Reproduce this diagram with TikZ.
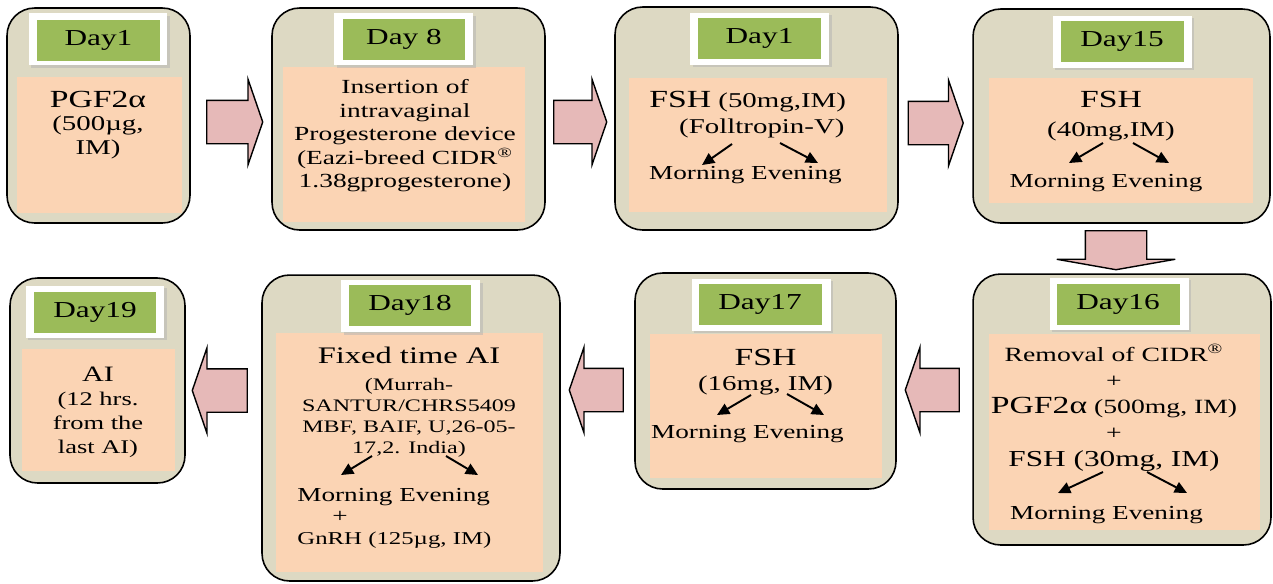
\documentclass[tikz,border=0pt]{standalone}
\usepackage{fontspec}
\setmainfont{Liberation Serif}[FakeStretch=1.37]
\usetikzlibrary{arrows.meta,shapes.arrows,shadows,calc}

\definecolor{boxtan}{HTML}{DDD9C3}
\definecolor{peach}{HTML}{FBD4B4}
\definecolor{daygreen}{HTML}{9BBB59}
\definecolor{arrowpink}{HTML}{E6B9B8}

\newcommand{\bigtxt}{\fontsize{14pt}{16pt}\selectfont}
\newcommand{\midtxt}{\fontsize{13pt}{15pt}\selectfont}

\begin{document}
\begin{tikzpicture}[x=0.02cm, y=-0.02cm, >={Triangle[length=7pt,width=6.5pt]}]
  \tikzstyle{daybox}=[draw, line width=0.9pt, fill=boxtan, rounded corners=0.55cm]
  \tikzstyle{inbox}=[fill=peach, inner sep=0pt]
  \tikzstyle{tabframe}=[fill=white, minimum width=2.78cm, minimum height=1.04cm,
    drop shadow={shadow xshift=1.5pt, shadow yshift=-1.5pt, fill=black!30}]
  \tikzstyle{tab}=[fill=daygreen, minimum width=2.46cm, minimum height=0.82cm,
    font=\fontsize{13pt}{15pt}\selectfont]
  \tikzstyle{txt}=[inner sep=0pt, align=center]
  \tikzstyle{blockarr}=[single arrow, draw, line width=0.8pt, fill=arrowpink,
    inner xsep=0pt, inner ysep=0.42cm, single arrow head extend=0.42cm, single arrow tip angle=142]
  \tikzstyle{twig}=[->, line width=1.1pt]

  \useasboundingbox (0,0) rectangle (1273,583);

  % top row
  \node[daybox, minimum width=3.66cm, minimum height=4.30cm] (b1) at (98.5,115.5) {};
  \node[daybox, minimum width=5.46cm, minimum height=4.44cm] (b2) at (408.5,119) {};
  \node[daybox, minimum width=5.66cm, minimum height=4.46cm] (b3) at (756.5,118.5) {};
  \node[daybox, minimum width=5.94cm, minimum height=4.28cm] (b4) at (1121.5,116) {};
  % bottom row
  \node[daybox, minimum width=5.96cm, minimum height=5.42cm] (b5) at (1122,409.5) {};
  \node[daybox, minimum width=5.22cm, minimum height=4.32cm] (b6) at (765.5,381) {};
  \node[daybox, minimum width=5.96cm, minimum height=6.12cm] (b7) at (411,428) {};
  \node[daybox, minimum width=3.50cm, minimum height=4.10cm] (b8) at (97.5,380.5) {};

  \node[inbox, minimum width=3.30cm, minimum height=2.72cm] (p1) at (99.5,145) {};
  \node[inbox, minimum width=4.84cm, minimum height=3.10cm] (p2) at (404,144.5) {};
  \node[inbox, minimum width=5.16cm, minimum height=2.68cm] (p3) at (758,145) {};
  \node[inbox, minimum width=5.28cm, minimum height=2.50cm] (p4) at (1121,140.5) {};
  \node[inbox, minimum width=5.42cm, minimum height=3.92cm] (p5) at (1124.5,432) {};
  \node[inbox, minimum width=4.64cm, minimum height=2.88cm] (p6) at (766,406) {};
  \node[inbox, minimum width=5.34cm, minimum height=4.78cm] (p7) at (409.5,452.5) {};
  \node[inbox, minimum width=3.06cm, minimum height=2.44cm] (p8) at (98.5,410) {};

  % day tabs
  \node[tabframe] (f1) at (98,39) {};
  \node[tab] (g1) at (98.5,40) {Day1};
  \node[tabframe] (f2) at (403.5,39) {};
  \node[tab] (g2) at (404,39) {Day 8};
  \node[tabframe] (f3) at (759.5,38.5) {};
  \node[tab] (g3) at (759.5,38) {Day1};
  \node[tabframe] (f4) at (1122,41.5) {};
  \node[tab] (g4) at (1122,41) {Day15};
  \node[tabframe] (f5) at (1119,303.5) {};
  \node[tab] (g5) at (1118,304) {Day16};
  \node[tabframe] (f6) at (761,304.5) {};
  \node[tab] (g6) at (760,304.5) {Day17};
  \node[tabframe] (f7) at (410.5,306) {};
  \node[tab] (g7) at (410,305) {Day18};
  \node[tabframe] (f8) at (95,311.5) {};
  \node[tab] (g8) at (95,312) {Day19};

  % texts
  \node[txt, anchor=north, font=\fontsize{12pt}{13.2pt}\selectfont] (t1) at (98,91)
    {{\bigtxt PGF2α}\\(500µg,\\IM)};
  \node[txt, anchor=north, font=\fontsize{11.4pt}{13.4pt}\selectfont] (t2) at (405,79)
    {Insertion of\\intravaginal\\Progesterone device\\(Eazi-breed CIDR\textsuperscript{®}\\1.38gprogesterone)};
  \node[txt, align=left, anchor=north west, font=\fontsize{12pt}{14.7pt}\selectfont] (t3) at (649,91)
    {{\bigtxt FSH} (50mg,IM)\\\hspace*{17pt}(Folltropin-V)};
  \node[txt, anchor=north, font=\fontsize{11.3pt}{13pt}\selectfont] (m3) at (745.5,166) {Morning Evening};
  \node[txt, anchor=north, font=\fontsize{12pt}{16.4pt}\selectfont] (t4) at (1111,91)
    {{\bigtxt FSH}\\(40mg,IM)};
  \node[txt, anchor=north, font=\fontsize{11.3pt}{13pt}\selectfont] (m4) at (1106,173.5) {Morning Evening};
  \node[txt, anchor=north, font=\fontsize{11.5pt}{14.9pt}\selectfont] (t5) at (1114,344)
    {Removal of CIDR\textsuperscript{®}\\+\\{\bigtxt PGF2α} (500mg, IM)\\+\\{\midtxt FSH (30mg, IM)}};
  \node[txt, anchor=north, font=\fontsize{11.3pt}{13pt}\selectfont] (m5) at (1106.5,505.5) {Morning Evening};
  \node[txt, anchor=north, font=\fontsize{12pt}{14.2pt}\selectfont] (t6) at (765.5,349)
    {{\bigtxt FSH}\\(16mg, IM)};
  \node[txt, anchor=north, font=\fontsize{11.3pt}{13pt}\selectfont] (m6) at (747.5,425) {Morning Evening};
  \node[txt, anchor=north, font=\fontsize{10pt}{12pt}\selectfont] (t7) at (409,347)
    {{\fontsize{13.5pt}{15pt}\selectfont Fixed time AI}\\[3pt](Murrah-\\SANTUR/CHRS5409\\MBF, BAIF, U,26-05-\\17,2. India)};
  \node[txt, align=left, anchor=north west, font=\fontsize{11.3pt}{12.5pt}\selectfont] (m7) at (297,487.5)
    {Morning Evening\\\hspace*{20pt}+\\{\fontsize{10.3pt}{12pt}\selectfont GnRH (125µg, IM)}};
  \node[txt, anchor=north, font=\fontsize{11pt}{13.5pt}\selectfont] (t8) at (98,367)
    {{\fontsize{12.5pt}{14pt}\selectfont AI}\\(12 hrs.\\from the\\last AI)};

  % morning / evening splits
  \draw[twig] ($(m3.north)+(-13.5,-22)$) -- ($(m3.north)+(-43.5,-1)$);
  \draw[twig] ($(m3.north)+(34.5,-23)$) -- ($(m3.north)+(72.5,-3)$);
  \draw[twig] ($(m4.north)+(-3,-30.5)$) -- ($(m4.north)+(-37,-10.5)$);
  \draw[twig] ($(m4.north)+(27,-30.5)$) -- ($(m4.north)+(63,-10.5)$);
  \draw[twig] ($(m5.north)+(-3.5,-33.5)$) -- ($(m5.north)+(-48.5,-12.5)$);
  \draw[twig] ($(m5.north)+(40.5,-33.5)$) -- ($(m5.north)+(80.5,-12.5)$);
  \draw[twig] ($(m6.north)+(3.5,-30)$) -- ($(m6.north)+(-30.5,-10)$);
  \draw[twig] ($(m6.north)+(39.5,-31)$) -- ($(m6.north)+(76.5,-10)$);
  \draw[twig] ($(m7.north west)+(75,-31.5)$) -- ($(m7.north west)+(44,-12.5)$);
  \draw[twig] ($(m7.north west)+(149,-31.5)$) -- ($(m7.north west)+(181,-12.5)$);

  % block arrows between days
  \node[blockarr, minimum height=1.12cm] (a1) at (231,122) {};
  \node[blockarr, minimum height=1.06cm] (a2) at (576.5,122) {};
  \node[blockarr, minimum height=1.10cm] (a3) at (932,123) {};
  \node[blockarr, minimum height=0.78cm, inner xsep=0.6cm, inner ysep=0pt, single arrow head extend=0.57cm,
    single arrow tip angle=160, shape border rotate=270] (a4) at (1116,247.5) {};
  \node[blockarr, minimum height=1.08cm, shape border rotate=180] (a5) at (936,390) {};
  \node[blockarr, minimum height=1.08cm, shape border rotate=180] (a6) at (600,390) {};
  \node[blockarr, minimum height=1.10cm, shape border rotate=180] (a7) at (223.5,390.5) {};
\end{tikzpicture}
\end{document}
